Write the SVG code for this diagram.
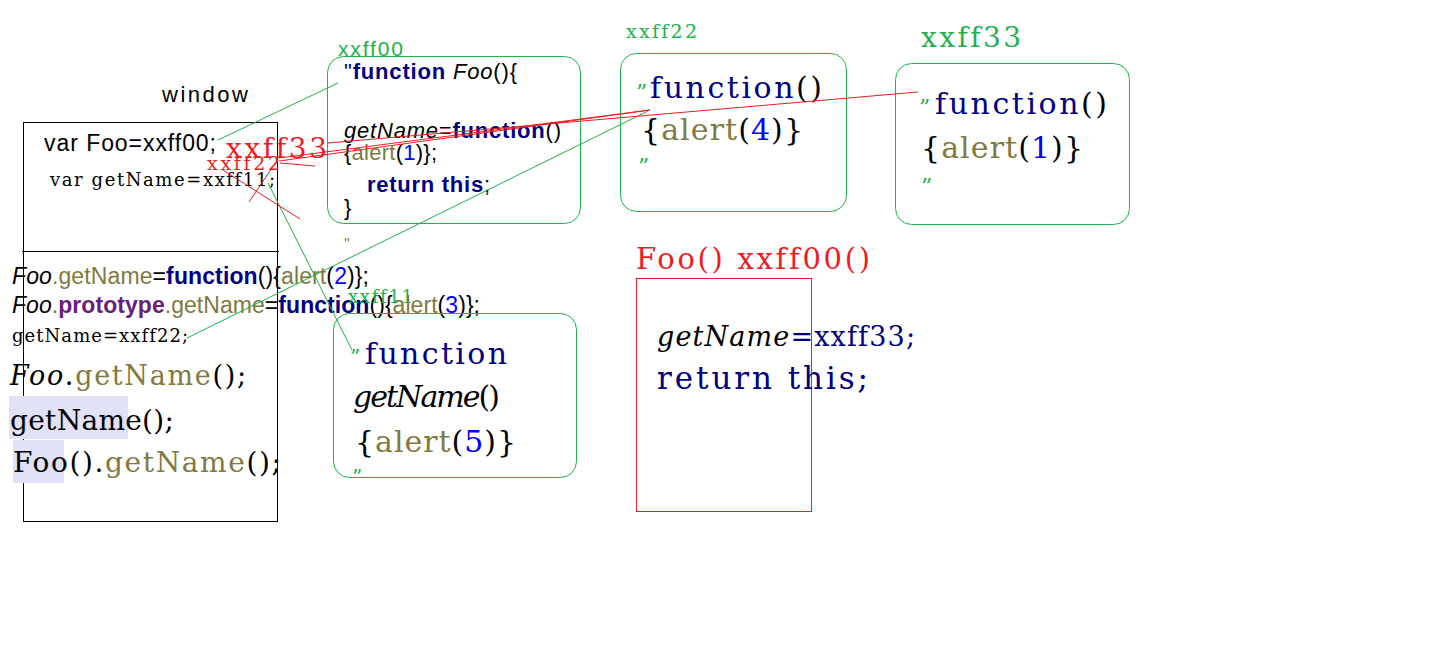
<svg xmlns="http://www.w3.org/2000/svg" width="1442" height="648" viewBox="0 0 1442 648">
<style>
.sans{font-family:"Liberation Sans",Arial,sans-serif}
.ser{font-family:"DejaVu Serif","Liberation Serif",serif;font-variant-ligatures:none;font-feature-settings:"liga" 0,"clig" 0}
.k{fill:#000}
.nv{fill:#000080}
.ol{fill:#807a42}
.bl{fill:#0000ff}
.pu{fill:#6a1e7c}
.gr{fill:#22b14c}
.rd{fill:#ed1c24}
.b{font-weight:bold}
.i{font-style:italic}
.gbox{fill:none;stroke:#22b14c;stroke-width:1}
.rbox{fill:none;stroke:#ed1c24;stroke-width:1}
.kbox{fill:none;stroke:#000;stroke-width:1}
.gl{stroke:#22b14c;stroke-width:1;fill:none}
.rl{stroke:#ed1c24;stroke-width:1;fill:none}
.hl{fill:#e1e1f8}
</style>
<rect width="1442" height="648" fill="#fff"/>

<g id="window">
  <text class="sans k" x="162" y="102" font-size="22" textLength="86">window</text>
  <rect class="kbox" x="23.5" y="122.5" width="254" height="399"/>
  <line x1="22" y1="251.5" x2="279" y2="251.5" stroke="#000" stroke-width="1"/>
  <text class="sans k" x="44" y="151" font-size="23" textLength="172">var Foo=xxff00;</text>
  <text class="ser k" x="50" y="186" font-size="18" textLength="225">var getName=xxff11;</text>
  <text class="sans" x="12" y="284" font-size="23" textLength="357"><tspan class="k i">Foo</tspan><tspan class="ol">.getName</tspan><tspan class="k">=</tspan><tspan class="nv b">function</tspan><tspan class="k">(){</tspan><tspan class="ol">alert</tspan><tspan class="k">(</tspan><tspan class="bl">2</tspan><tspan class="k">)};</tspan></text>
  <text class="sans" x="12" y="313" font-size="23" textLength="468"><tspan class="k i">Foo</tspan><tspan class="ol">.</tspan><tspan class="pu b">prototype</tspan><tspan class="ol">.getName</tspan><tspan class="k">=</tspan><tspan class="nv b">function</tspan><tspan class="k">(){</tspan><tspan class="ol">alert</tspan><tspan class="k">(</tspan><tspan class="bl">3</tspan><tspan class="k">)};</tspan></text>
  <text class="ser k" x="12" y="342" font-size="18" textLength="176">getName=xxff22;</text>
  <text class="ser" x="10" y="385" font-size="27" textLength="236"><tspan class="k i">Foo</tspan><tspan class="k">.</tspan><tspan class="ol">getName</tspan><tspan class="k">();</tspan></text>
  <rect class="hl" x="9" y="396" width="119" height="43"/>
  <text class="ser k" x="10" y="430" font-size="28" textLength="164">getName();</text>
  <rect class="hl" x="13" y="440" width="51" height="43"/>
  <text class="ser" x="13" y="472" font-size="28" textLength="268"><tspan class="k">Foo().</tspan><tspan class="ol">getName</tspan><tspan class="k">();</tspan></text>
</g>

<g id="xxff00">
  <text class="sans gr" x="338" y="56" font-size="21" textLength="65">xxff00</text>
  <rect class="gbox" x="327.5" y="56.5" width="253" height="167" rx="16"/>
  <text class="sans" x="344" y="79" font-size="22" textLength="173"><tspan class="nv">"</tspan><tspan class="nv b">function</tspan><tspan class="k i"> Foo</tspan><tspan class="k">(){</tspan></text>
  <text class="sans" x="344" y="138" font-size="22" textLength="217"><tspan class="k i">getName</tspan><tspan class="k">=</tspan><tspan class="nv b">function</tspan><tspan class="k">()</tspan></text>
  <text class="sans" x="344" y="160" font-size="22" textLength="93"><tspan class="k">{</tspan><tspan class="ol">alert</tspan><tspan class="k">(</tspan><tspan class="bl">1</tspan><tspan class="k">)};</tspan></text>
  <text class="sans" x="367" y="192" font-size="22" textLength="123"><tspan class="nv b">return this</tspan><tspan class="k">;</tspan></text>
  <text class="sans k" x="344" y="215" font-size="22">}</text>
  <text class="sans" x="344" y="250" font-size="16" fill="#6f9a3a">"</text>
</g>

<g id="xxff22">
  <text class="ser gr" x="626" y="38" font-size="19" textLength="71">xxff22</text>
  <rect class="gbox" x="620.5" y="53.5" width="226" height="158" rx="16"/>
  <text class="ser gr" x="636" y="100" font-size="22">”</text>
  <text class="ser" x="650" y="98" font-size="30" textLength="172"><tspan class="nv">function</tspan><tspan class="k">()</tspan></text>
  <text class="ser" x="641" y="140" font-size="30" textLength="162"><tspan class="k">{</tspan><tspan class="ol">alert</tspan><tspan class="k">(</tspan><tspan class="bl">4</tspan><tspan class="k">)}</tspan></text>
  <text class="ser gr" x="638" y="174" font-size="22">”</text>
</g>

<g id="xxff33">
  <text class="ser gr" x="921" y="47" font-size="28" textLength="100">xxff33</text>
  <rect class="gbox" x="895.5" y="63.5" width="234" height="161" rx="16"/>
  <text class="ser gr" x="919" y="115" font-size="22">”</text>
  <text class="ser" x="935" y="114" font-size="30" textLength="172"><tspan class="nv">function</tspan><tspan class="k">()</tspan></text>
  <text class="ser" x="921" y="158" font-size="30" textLength="162"><tspan class="k">{</tspan><tspan class="ol">alert</tspan><tspan class="k">(</tspan><tspan class="bl">1</tspan><tspan class="k">)}</tspan></text>
  <text class="ser gr" x="921" y="194" font-size="22">”</text>
</g>

<g id="xxff11">
  <text class="ser gr" x="348" y="303" font-size="18" textLength="65">xxff11</text>
  <rect class="gbox" x="333.5" y="313.5" width="243" height="164" rx="16"/>
  <text class="ser gr" x="350" y="364" font-size="20">”</text>
  <text class="ser nv" x="365" y="364" font-size="30" textLength="142">function</text>
  <text class="ser" x="353" y="407" font-size="30" textLength="147"><tspan class="k i">getName</tspan><tspan class="k">()</tspan></text>
  <text class="ser" x="355" y="452" font-size="30" textLength="161"><tspan class="k">{</tspan><tspan class="ol">alert</tspan><tspan class="k">(</tspan><tspan class="bl">5</tspan><tspan class="k">)}</tspan></text>
  <text class="ser gr" x="352" y="484" font-size="20">”</text>
</g>

<g id="foo-call">
  <text class="ser rd" x="636" y="269" font-size="29" textLength="234">Foo() xxff00()</text>
  <rect class="rbox" x="636.5" y="278.5" width="175" height="233"/>
  <text class="ser" x="657" y="346" font-size="27" textLength="258"><tspan class="k i">getName</tspan><tspan class="nv">=xxff33;</tspan></text>
  <text class="ser nv" x="657" y="389" font-size="31" textLength="211">return this;</text>
</g>

<g id="red-labels">
  <text class="ser rd" x="226" y="158" font-size="28" textLength="101">xxff33</text>
  <text class="ser rd" x="207" y="170" font-size="19" textLength="73">xxff22</text>
</g>

<g id="connectors">
  <line class="gl" x1="218" y1="140" x2="338" y2="83"/>
  <line class="gl" x1="268" y1="183" x2="352" y2="350"/>
  <line class="gl" x1="187" y1="338" x2="648" y2="111"/>
  <line class="rl" x1="328" y1="143" x2="918" y2="92"/>
  <line class="rl" x1="279" y1="161" x2="650" y2="110"/>
  <line class="rl" x1="279" y1="158" x2="650" y2="110"/>
  <line class="rl" x1="280" y1="163" x2="315" y2="166"/>
  <line class="rl" x1="223" y1="170" x2="300" y2="219"/>
  <line class="rl" x1="249" y1="202" x2="276" y2="162"/>
</g>
</svg>
